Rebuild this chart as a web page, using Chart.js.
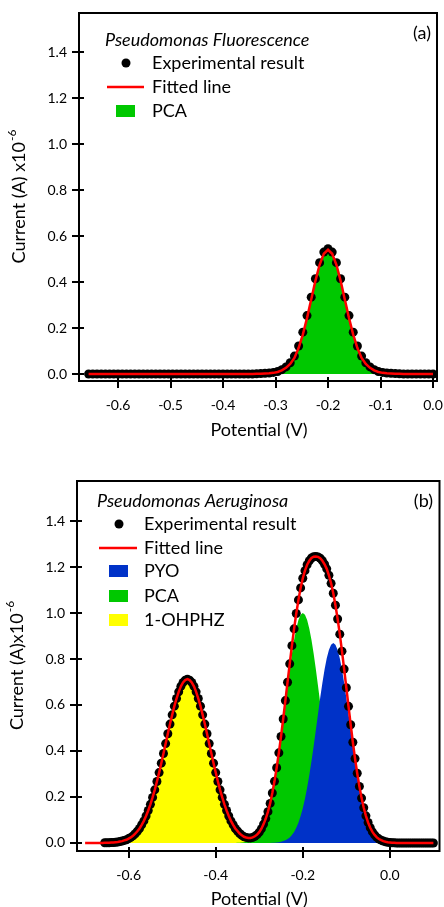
<!DOCTYPE html>
<html>
<head>
<meta charset="utf-8">
<script src="https://cdn.jsdelivr.net/npm/chart.js@4.4.1/dist/chart.umd.min.js"></script>
<style>
  body { margin: 0; background: #fff; }
  .panel { position: absolute; left: 0; width: 444px; }
</style>
</head>
<body>
<div class="panel" style="top:0;height:450px"><canvas id="chartA"></canvas></div>
<div class="panel" style="top:453px;height:454px"><canvas id="chartB"></canvas></div>
<script>
// ---- panel (a): Pseudomonas Fluorescence ----
const potentialA = [
  -0.656,-0.648,-0.640,-0.632,-0.624,-0.616,-0.608,-0.600,-0.592,-0.584,
  -0.576,-0.568,-0.560,-0.552,-0.544,-0.536,-0.528,-0.520,-0.512,-0.504,
  -0.496,-0.488,-0.480,-0.472,-0.464,-0.456,-0.448,-0.440,-0.432,-0.424,
  -0.416,-0.408,-0.400,-0.392,-0.384,-0.376,-0.368,-0.360,-0.352,-0.344,
  -0.336,-0.328,-0.320,-0.312,-0.304,-0.296,-0.288,-0.280,-0.272,-0.264,
  -0.256,-0.248,-0.240,-0.232,-0.224,-0.216,-0.208,-0.200,-0.192,-0.184,
  -0.176,-0.168,-0.160,-0.152,-0.144,-0.136,-0.128,-0.120,-0.112,-0.104,
  -0.096,-0.088,-0.080,-0.072,-0.064,-0.056,-0.048,-0.040,-0.032,-0.024,
  -0.016,-0.008,0.000
];
const expA = [
  0,0,0,0,0,0,0,0,0,0,
  0,0,0,0,0,0,0,0,0,0,
  0,0,0,0,0,0,0,0,0,0,
  0,0,0,0,0,0,0,0,0,0,
  0.001,0.002,0.003,0.004,0.007,0.011,0.019,0.031,0.049,0.078,
  0.122,0.182,0.254,0.334,0.414,0.484,0.530,0.545,0.530,0.484,
  0.414,0.334,0.254,0.182,0.122,0.078,0.049,0.031,0.019,0.011,
  0.007,0.004,0.003,0.002,0.001,0,0,0,0,0,
  0,0,0
];
const fitA = [
  0,0,0,0,0,0,0,0,0,0,
  0,0,0,0,0,0,0,0,0,0,
  0,0,0,0,0,0,0,0,0,0,
  0,0,0,0,0,0,0,0,0,0,
  0.001,0.001,0.002,0.003,0.005,0.009,0.016,0.027,0.044,0.070,
  0.113,0.171,0.243,0.324,0.405,0.475,0.523,0.540,0.523,0.475,
  0.405,0.324,0.243,0.171,0.113,0.070,0.044,0.027,0.016,0.009,
  0.005,0.003,0.002,0.001,0.001,0,0,0,0,0,
  0,0,0
];
// only one component, so it is the fitted line itself
const pcaA = fitA;

// ---- panel (b): Pseudomonas Aeruginosa ----
const potentialB = [
  -0.700,-0.695,-0.690,-0.685,-0.680,-0.675,-0.670,-0.665,-0.660,-0.655,
  -0.650,-0.645,-0.640,-0.635,-0.630,-0.625,-0.620,-0.615,-0.610,-0.605,
  -0.600,-0.595,-0.590,-0.585,-0.580,-0.575,-0.570,-0.565,-0.560,-0.555,
  -0.550,-0.545,-0.540,-0.535,-0.530,-0.525,-0.520,-0.515,-0.510,-0.505,
  -0.500,-0.495,-0.490,-0.485,-0.480,-0.475,-0.470,-0.465,-0.460,-0.455,
  -0.450,-0.445,-0.440,-0.435,-0.430,-0.425,-0.420,-0.415,-0.410,-0.405,
  -0.400,-0.395,-0.390,-0.385,-0.380,-0.375,-0.370,-0.365,-0.360,-0.355,
  -0.350,-0.345,-0.340,-0.335,-0.330,-0.325,-0.320,-0.315,-0.310,-0.305,
  -0.300,-0.295,-0.290,-0.285,-0.280,-0.275,-0.270,-0.265,-0.260,-0.255,
  -0.250,-0.245,-0.240,-0.235,-0.230,-0.225,-0.220,-0.215,-0.210,-0.205,
  -0.200,-0.195,-0.190,-0.185,-0.180,-0.175,-0.170,-0.165,-0.160,-0.155,
  -0.150,-0.145,-0.140,-0.135,-0.130,-0.125,-0.120,-0.115,-0.110,-0.105,
  -0.100,-0.095,-0.090,-0.085,-0.080,-0.075,-0.070,-0.065,-0.060,-0.055,
  -0.050,-0.045,-0.040,-0.035,-0.030,-0.025,-0.020,-0.015,-0.010,-0.005,
  0.000,0.005,0.010,0.015,0.020,0.025,0.030,0.035,0.040,0.045,
  0.050,0.055,0.060,0.065,0.070,0.075,0.080,0.085,0.090,0.095,
  0.100
];
const fitB = [
  0,0,0,0,0,0,0,0,0,0.001,
  0.001,0.001,0.002,0.002,0.003,0.004,0.006,0.008,0.011,0.014,
  0.019,0.024,0.031,0.040,0.051,0.063,0.079,0.096,0.117,0.141,
  0.168,0.198,0.231,0.267,0.306,0.347,0.389,0.432,0.475,0.517,
  0.557,0.595,0.628,0.657,0.681,0.698,0.708,0.712,0.708,0.698,
  0.681,0.657,0.628,0.595,0.557,0.517,0.475,0.432,0.389,0.347,
  0.306,0.267,0.231,0.198,0.168,0.141,0.117,0.096,0.079,0.063,
  0.052,0.041,0.033,0.027,0.024,0.022,0.022,0.024,0.029,0.036,
  0.047,0.062,0.082,0.106,0.136,0.172,0.217,0.268,0.327,0.392,
  0.463,0.539,0.619,0.699,0.779,0.858,0.931,0.998,1.057,1.109,
  1.151,1.184,1.210,1.227,1.239,1.245,1.246,1.244,1.238,1.227,
  1.212,1.192,1.164,1.129,1.086,1.034,0.974,0.908,0.834,0.756,
  0.675,0.594,0.514,0.438,0.367,0.303,0.246,0.195,0.153,0.118,
  0.089,0.066,0.048,0.035,0.024,0.017,0.012,0.008,0.005,0.003,
  0.002,0.001,0.001,0,0,0,0,0,0,0,
  0,0,0,0,0,0,0,0,0,0,
  0
];
const expB = [
  null,null,null,null,null,null,null,null,null,0.001,
  0.001,0.001,0.002,0.002,0.003,0.004,0.006,0.008,0.011,0.014,
  0.019,0.024,0.031,0.040,0.051,0.063,0.079,0.096,0.117,0.141,
  0.168,0.198,0.231,0.267,0.306,0.347,0.389,0.432,0.475,0.517,
  0.557,0.595,0.628,0.657,0.681,0.698,0.708,0.712,0.708,0.698,
  0.681,0.657,0.628,0.595,0.557,0.517,0.475,0.432,0.389,0.347,
  0.306,0.267,0.231,0.198,0.168,0.141,0.117,0.096,0.079,0.063,
  0.052,0.041,0.033,0.027,0.024,0.022,0.022,0.024,0.029,0.036,
  0.047,0.062,0.082,0.106,0.136,0.172,0.217,0.268,0.327,0.392,
  0.463,0.539,0.619,0.699,0.779,0.858,0.931,0.998,1.057,1.109,
  1.151,1.184,1.210,1.227,1.239,1.245,1.246,1.244,1.238,1.227,
  1.212,1.192,1.164,1.129,1.086,1.034,0.974,0.908,0.834,0.756,
  0.675,0.594,0.514,0.438,0.367,0.303,0.246,0.195,0.153,0.118,
  0.089,0.066,0.048,0.035,0.024,0.017,0.012,0.008,0.005,0.003,
  0.002,0.001,0.001,0,0,0,0,0,0,0,
  0,0,0,0,0,0,0,0,0,0,
  0
];
const pyoB = [
  0,0,0,0,0,0,0,0,0,0,
  0,0,0,0,0,0,0,0,0,0,
  0,0,0,0,0,0,0,0,0,0,
  0,0,0,0,0,0,0,0,0,0,
  0,0,0,0,0,0,0,0,0,0,
  0,0,0,0,0,0,0,0,0,0,
  0,0,0,0,0,0,0,0,0,0,
  0,0,0,0,0,0,0,0,0,0,
  0,0,0,0,0,0,0.001,0.001,0.002,0.003,
  0.005,0.008,0.012,0.017,0.024,0.035,0.048,0.066,0.088,0.117,
  0.151,0.192,0.241,0.295,0.356,0.422,0.491,0.562,0.631,0.696,
  0.754,0.803,0.839,0.862,0.870,0.862,0.839,0.803,0.754,0.696,
  0.631,0.562,0.491,0.422,0.356,0.295,0.241,0.192,0.151,0.117,
  0.088,0.066,0.048,0.035,0.024,0.017,0.012,0.008,0.005,0.003,
  0.002,0.001,0.001,0,0,0,0,0,0,0,
  0,0,0,0,0,0,0,0,0,0,
  0
];
const pcaB = [
  0,0,0,0,0,0,0,0,0,0,
  0,0,0,0,0,0,0,0,0,0,
  0,0,0,0,0,0,0,0,0,0,
  0,0,0,0,0,0,0,0,0,0,
  0,0,0,0,0,0,0,0,0,0,
  0,0,0,0,0,0,0,0,0,0,
  0,0,0,0,0,0,0,0,0,0,
  0.001,0.001,0.002,0.003,0.005,0.008,0.011,0.016,0.023,0.032,
  0.044,0.060,0.080,0.105,0.135,0.172,0.216,0.267,0.325,0.389,
  0.458,0.531,0.607,0.682,0.755,0.823,0.883,0.932,0.969,0.992,
  1.000,0.992,0.969,0.932,0.883,0.823,0.755,0.682,0.607,0.531,
  0.458,0.389,0.325,0.267,0.216,0.172,0.135,0.105,0.080,0.060,
  0.044,0.032,0.023,0.016,0.011,0.008,0.005,0.003,0.002,0.001,
  0.001,0,0,0,0,0,0,0,0,0,
  0,0,0,0,0,0,0,0,0,0,
  0,0,0,0,0,0,0,0,0,0,
  0
];
const ohphzB = [
  0,0,0,0,0,0,0,0,0,0.001,
  0.001,0.001,0.002,0.002,0.003,0.004,0.006,0.008,0.011,0.014,
  0.019,0.024,0.031,0.040,0.051,0.063,0.079,0.096,0.117,0.141,
  0.168,0.198,0.231,0.267,0.306,0.347,0.389,0.432,0.475,0.517,
  0.557,0.595,0.628,0.657,0.681,0.698,0.708,0.712,0.708,0.698,
  0.681,0.657,0.628,0.595,0.557,0.517,0.475,0.432,0.389,0.347,
  0.306,0.267,0.231,0.198,0.168,0.141,0.117,0.096,0.079,0.063,
  0.051,0.040,0.031,0.024,0.019,0.014,0.011,0.008,0.006,0.004,
  0.003,0.002,0.002,0.001,0.001,0,0,0,0,0,
  0,0,0,0,0,0,0,0,0,0,
  0,0,0,0,0,0,0,0,0,0,
  0,0,0,0,0,0,0,0,0,0,
  0,0,0,0,0,0,0,0,0,0,
  0,0,0,0,0,0,0,0,0,0,
  0,0,0,0,0,0,0,0,0,0,
  0,0,0,0,0,0,0,0,0,0,
  0
];

// tick labels
const ticksY = [0.0, 0.2, 0.4, 0.6, 0.8, 1.0, 1.2, 1.4];
const ticksXA = [-0.6, -0.5, -0.4, -0.3, -0.2, -0.1, 0.0];
const ticksXB = [-0.6, -0.4, -0.2, 0.0];

Chart.defaults.font.family = 'Lato';
Chart.defaults.color = '#000';

const fmt = v => (Math.abs(v) < 1e-9 ? 0 : v).toFixed(1);

// frame, inner tick stubs, legend, panel tag and axis titles
const panelDecor = {
  id: 'panelDecor',
  afterDatasetsDraw(chart, args, o) {
    const {ctx, chartArea: a, scales} = chart;
    ctx.save();
    ctx.strokeStyle = '#000';
    ctx.lineWidth = 2;
    ctx.strokeRect(a.left, a.top, a.right - a.left, a.bottom - a.top);
    ctx.beginPath();
    ticksY.forEach(v => {
      const y = Math.round(scales.y.getPixelForValue(v));
      ctx.moveTo(a.left - 7, y); ctx.lineTo(a.left + 5, y);
    });
    o.ticksX.forEach(v => {
      const x = Math.round(scales.x.getPixelForValue(v));
      ctx.moveTo(x, a.bottom - 4); ctx.lineTo(x, a.bottom + 7);
    });
    ctx.stroke();

    ctx.fillStyle = '#000';
    ctx.textBaseline = 'alphabetic';
    ctx.font = 'italic 18px Lato';
    ctx.fillText(o.title, o.titleX, o.titleY);
    ctx.font = '18px Lato';
    ctx.textAlign = 'right';
    ctx.fillText(o.tag, o.tagX, o.tagY);
    ctx.textAlign = 'left';

    o.items.forEach((label, i) => {
      const ds = chart.data.datasets.find(d => d.label === label);
      const base = o.rowY[i];
      if (ds.legendKind === 'dot') {
        ctx.fillStyle = '#000';
        ctx.beginPath();
        ctx.arc(o.dotX, base - 6, 4.5, 0, Math.PI * 2);
        ctx.fill();
      } else if (ds.legendKind === 'line') {
        ctx.strokeStyle = ds.borderColor;
        ctx.lineWidth = 2.5;
        ctx.beginPath();
        ctx.moveTo(o.lineX[0], base - 6); ctx.lineTo(o.lineX[1], base - 6);
        ctx.stroke();
      } else {
        ctx.fillStyle = ds.backgroundColor;
        ctx.fillRect(o.boxX[0], base - 12, o.boxX[1] - o.boxX[0], 12);
      }
      ctx.fillStyle = '#000';
      ctx.font = '18px Lato';
      ctx.fillText(label, o.textX, base);
    });

    // x title
    ctx.textAlign = 'center';
    ctx.font = '18px Lato';
    ctx.fillText('Potential (V)', (a.left + a.right) / 2 + 1, o.xTitleY);

    // y title with superscript exponent
    ctx.textAlign = 'left';
    const main = o.yTitle, sup = '-6';
    ctx.font = '18px Lato';
    const wMain = ctx.measureText(main).width;
    ctx.font = '12px Lato';
    const wSup = ctx.measureText(sup).width;
    ctx.translate(o.yTitleX, (a.top + a.bottom) / 2);
    ctx.rotate(-Math.PI / 2);
    ctx.font = '18px Lato';
    ctx.fillText(main, -(wMain + wSup) / 2, 0);
    ctx.font = '12px Lato';
    ctx.fillText(sup, -(wMain + wSup) / 2 + wMain + 1, -9);
    ctx.restore();
  }
};

function makeScales(xMin, xMax, xTicks, yMin, yMax, yWidth, xHeight) {
  return {
    x: {
      type: 'linear', min: xMin, max: xMax,
      afterBuildTicks: s => { s.ticks = xTicks.map(v => ({value: v})); },
      ticks: {font: {size: 14}, padding: 16, maxRotation: 0, autoSkip: false, callback: v => fmt(v)},
      grid: {display: false, drawTicks: false},
      border: {display: false},
      afterFit: s => { s.height = xHeight; s.paddingLeft = 0; s.paddingRight = 0; }
    },
    y: {
      min: yMin, max: yMax,
      afterBuildTicks: s => { s.ticks = ticksY.map(v => ({value: v})); },
      ticks: {font: {size: 14}, padding: 12, callback: v => fmt(v)},
      grid: {display: false, drawTicks: false},
      border: {display: false},
      afterFit: s => { s.width = yWidth; s.paddingTop = 0; s.paddingBottom = 0; }
    }
  };
}

const commonOpts = {
  responsive: true,
  maintainAspectRatio: false,
  animation: false,
  events: [],
  plugins: {legend: {display: false}, tooltip: {enabled: false}}
};

new Chart(document.getElementById('chartA'), {
  type: 'line',
  data: {
    labels: potentialA,
    datasets: [
      {label: 'Fitted line', data: fitA, borderColor: '#ff0000', borderWidth: 2.5, pointRadius: 0, fill: false, legendKind: 'line'},
      {label: 'Experimental result', data: expA, showLine: false, pointRadius: 4.5, pointBorderWidth: 0, pointBackgroundColor: '#000', legendKind: 'dot'},
      {label: 'PCA', data: pcaA, borderWidth: 0, pointRadius: 0, fill: 'origin', backgroundColor: '#00c800', legendKind: 'box'}
    ]
  },
  options: {
    ...commonOpts,
    layout: {padding: {left: 0, top: 13, right: 7, bottom: 0}},
    scales: makeScales(-0.6743, 0.0076, ticksXA, -0.0304, 1.5696, 79, 69),
    plugins: {
      ...commonOpts.plugins,
      panelDecor: {
        ticksX: ticksXA,
        title: 'Pseudomonas Fluorescence', titleX: 105, titleY: 46,
        tag: '(a)', tagX: 431, tagY: 39,
        items: ['Experimental result', 'Fitted line', 'PCA'],
        rowY: [69, 93, 117],
        dotX: 126, lineX: [107, 144], boxX: [116, 135], textX: 152,
        xTitleY: 436, yTitle: 'Current (A) x10', yTitleX: 25
      }
    }
  },
  plugins: [panelDecor]
});

new Chart(document.getElementById('chartB'), {
  type: 'line',
  data: {
    labels: potentialB,
    datasets: [
      {label: 'Fitted line', data: fitB, borderColor: '#ff0000', borderWidth: 2.5, pointRadius: 0, fill: false, legendKind: 'line'},
      {label: 'Experimental result', data: expB, showLine: false, pointRadius: 4.5, pointBorderWidth: 0, pointBackgroundColor: '#000', legendKind: 'dot'},
      {label: 'PYO', data: pyoB, borderWidth: 0, pointRadius: 0, fill: 'origin', backgroundColor: '#0032c8', legendKind: 'box'},
      {label: 'PCA', data: pcaB, borderWidth: 0, pointRadius: 0, fill: 'origin', backgroundColor: '#00c800', legendKind: 'box'},
      {label: '1-OHPHZ', data: ohphzB, borderWidth: 0, pointRadius: 0, fill: 'origin', backgroundColor: '#ffff00', legendKind: 'box'}
    ]
  },
  options: {
    ...commonOpts,
    layout: {padding: {left: 0, top: 28, right: 2, bottom: 0}},
    scales: makeScales(-0.7186, 0.114, ticksXB, -0.035, 1.574, 77, 56),
    plugins: {
      ...commonOpts.plugins,
      panelDecor: {
        ticksX: ticksXB,
        title: 'Pseudomonas Aeruginosa', titleX: 97, titleY: 54,
        tag: '(b)', tagX: 433, tagY: 54,
        items: ['Experimental result', 'Fitted line', 'PYO', 'PCA', '1-OHPHZ'],
        rowY: [77, 101, 124, 149, 173],
        dotX: 119, lineX: [99, 137], boxX: [109, 128], textX: 144,
        xTitleY: 452, yTitle: 'Current (A)x10', yTitleX: 23
      }
    }
  },
  plugins: [panelDecor]
});
</script>
</body>
</html>
